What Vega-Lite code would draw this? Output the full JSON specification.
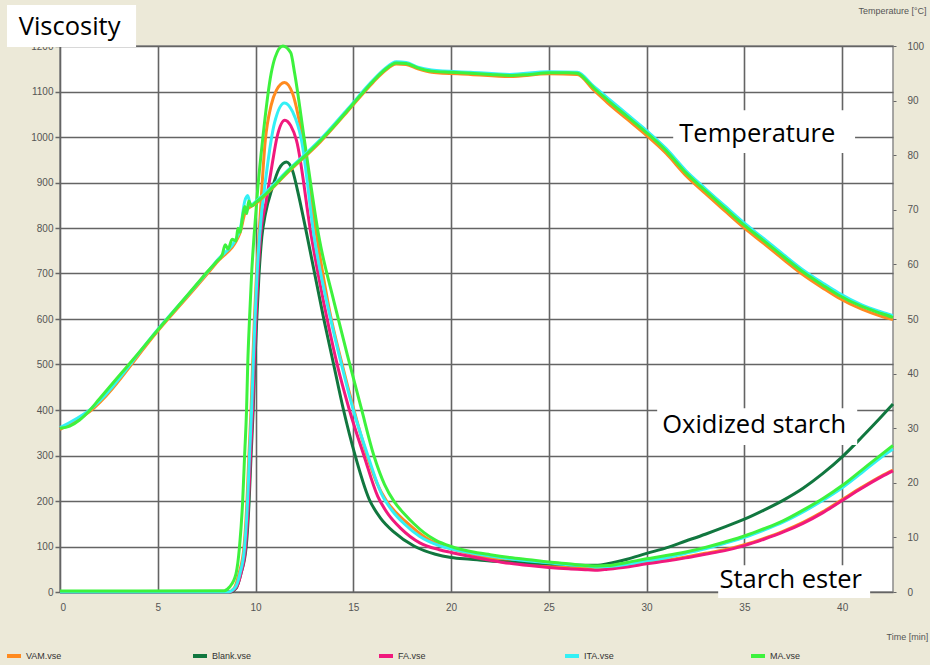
{
  "$schema": "https://vega.github.io/schema/vega-lite/v6.json",
  "width": 833,
  "height": 546,
  "autosize": "none",
  "padding": {"left": 60, "top": 46, "right": 37, "bottom": 73},
  "background": "#ECE9D8",
  "view": {"fill": "white", "stroke": "#8a8a8a", "strokeWidth": 1.5},
  "config": {
    "axis": {
      "labelFont": "Liberation Sans",
      "labelColor": "#555555",
      "labelFontSize": 10,
      "titleFont": "Liberation Sans",
      "titleFontWeight": "normal",
      "titleColor": "#555555",
      "titleFontSize": 9
    }
  },
  "datasets": {
    "visc": [
      {"s":"VAM.vse","t":0,"v":0},{"s":"VAM.vse","t":8.6,"v":0},{"s":"VAM.vse","t":8.9,"v":8},{"s":"VAM.vse","t":9.15,"v":40},{"s":"VAM.vse","t":9.41,"v":99},{"s":"VAM.vse","t":9.56,"v":198},{"s":"VAM.vse","t":9.66,"v":299},{"s":"VAM.vse","t":9.77,"v":400},{"s":"VAM.vse","t":9.85,"v":499},{"s":"VAM.vse","t":9.94,"v":598},{"s":"VAM.vse","t":10.05,"v":700},{"s":"VAM.vse","t":10.17,"v":780},{"s":"VAM.vse","t":10.5,"v":993},{"s":"VAM.vse","t":10.8,"v":1070},{"s":"VAM.vse","t":11.07,"v":1103},{"s":"VAM.vse","t":11.48,"v":1120},{"s":"VAM.vse","t":11.9,"v":1095},{"s":"VAM.vse","t":12.35,"v":1010},{"s":"VAM.vse","t":13.1,"v":790},{"s":"VAM.vse","t":13.8,"v":615},{"s":"VAM.vse","t":14.4,"v":505},{"s":"VAM.vse","t":15.0,"v":405},{"s":"VAM.vse","t":15.7,"v":300},{"s":"VAM.vse","t":16.2,"v":240},{"s":"VAM.vse","t":16.7,"v":200},{"s":"VAM.vse","t":17.2,"v":174},{"s":"VAM.vse","t":17.7,"v":154},{"s":"VAM.vse","t":18.3,"v":132},{"s":"VAM.vse","t":18.9,"v":114},{"s":"VAM.vse","t":19.5,"v":102},{"s":"VAM.vse","t":20,"v":95},{"s":"VAM.vse","t":21,"v":84},{"s":"VAM.vse","t":22,"v":75},{"s":"VAM.vse","t":23,"v":67},{"s":"VAM.vse","t":24,"v":61},{"s":"VAM.vse","t":25,"v":57},{"s":"VAM.vse","t":26,"v":54},{"s":"VAM.vse","t":27,"v":52},{"s":"VAM.vse","t":27.5,"v":51},{"s":"VAM.vse","t":28,"v":52},{"s":"VAM.vse","t":29,"v":57},{"s":"VAM.vse","t":30,"v":64},{"s":"VAM.vse","t":31,"v":70},{"s":"VAM.vse","t":32,"v":77},{"s":"VAM.vse","t":33,"v":85},{"s":"VAM.vse","t":34,"v":93},{"s":"VAM.vse","t":35,"v":104},{"s":"VAM.vse","t":36,"v":118},{"s":"VAM.vse","t":37,"v":134},{"s":"VAM.vse","t":38,"v":153},{"s":"VAM.vse","t":39,"v":176},{"s":"VAM.vse","t":40,"v":203},{"s":"VAM.vse","t":41,"v":230},{"s":"VAM.vse","t":42,"v":255},{"s":"VAM.vse","t":42.6,"v":268},
      {"s":"Blank.vse","t":0,"v":0},{"s":"Blank.vse","t":8.7,"v":0},{"s":"Blank.vse","t":9.0,"v":8},{"s":"Blank.vse","t":9.25,"v":40},{"s":"Blank.vse","t":9.52,"v":99},{"s":"Blank.vse","t":9.67,"v":198},{"s":"Blank.vse","t":9.77,"v":299},{"s":"Blank.vse","t":9.88,"v":400},{"s":"Blank.vse","t":9.96,"v":499},{"s":"Blank.vse","t":10.06,"v":598},{"s":"Blank.vse","t":10.18,"v":700},{"s":"Blank.vse","t":10.32,"v":780},{"s":"Blank.vse","t":10.5,"v":830},{"s":"Blank.vse","t":10.87,"v":890},{"s":"Blank.vse","t":11.2,"v":930},{"s":"Blank.vse","t":11.58,"v":945},{"s":"Blank.vse","t":11.9,"v":925},{"s":"Blank.vse","t":12.14,"v":884},{"s":"Blank.vse","t":12.65,"v":780},{"s":"Blank.vse","t":13.5,"v":598},{"s":"Blank.vse","t":14.0,"v":499},{"s":"Blank.vse","t":14.5,"v":400},{"s":"Blank.vse","t":15.1,"v":299},{"s":"Blank.vse","t":15.8,"v":205},{"s":"Blank.vse","t":16.4,"v":162},{"s":"Blank.vse","t":17.1,"v":131},{"s":"Blank.vse","t":18.1,"v":101},{"s":"Blank.vse","t":19.2,"v":83},{"s":"Blank.vse","t":20,"v":76},{"s":"Blank.vse","t":21,"v":72},{"s":"Blank.vse","t":22,"v":68},{"s":"Blank.vse","t":23,"v":66},{"s":"Blank.vse","t":24,"v":64},{"s":"Blank.vse","t":25,"v":62},{"s":"Blank.vse","t":26,"v":60},{"s":"Blank.vse","t":27,"v":59},{"s":"Blank.vse","t":27.5,"v":59},{"s":"Blank.vse","t":28,"v":62},{"s":"Blank.vse","t":29,"v":72},{"s":"Blank.vse","t":30,"v":85},{"s":"Blank.vse","t":31,"v":97},{"s":"Blank.vse","t":32,"v":112},{"s":"Blank.vse","t":33,"v":127},{"s":"Blank.vse","t":34,"v":143},{"s":"Blank.vse","t":35,"v":160},{"s":"Blank.vse","t":36,"v":180},{"s":"Blank.vse","t":37,"v":202},{"s":"Blank.vse","t":38,"v":228},{"s":"Blank.vse","t":39,"v":260},{"s":"Blank.vse","t":40,"v":297},{"s":"Blank.vse","t":41,"v":340},{"s":"Blank.vse","t":42,"v":385},{"s":"Blank.vse","t":42.6,"v":413},
      {"s":"FA.vse","t":0,"v":0},{"s":"FA.vse","t":8.65,"v":0},{"s":"FA.vse","t":8.98,"v":8},{"s":"FA.vse","t":9.25,"v":40},{"s":"FA.vse","t":9.49,"v":99},{"s":"FA.vse","t":9.64,"v":198},{"s":"FA.vse","t":9.74,"v":299},{"s":"FA.vse","t":9.85,"v":400},{"s":"FA.vse","t":9.93,"v":499},{"s":"FA.vse","t":10.02,"v":598},{"s":"FA.vse","t":10.13,"v":700},{"s":"FA.vse","t":10.25,"v":780},{"s":"FA.vse","t":10.55,"v":860},{"s":"FA.vse","t":10.85,"v":940},{"s":"FA.vse","t":11.1,"v":1000},{"s":"FA.vse","t":11.5,"v":1037},{"s":"FA.vse","t":11.8,"v":1025},{"s":"FA.vse","t":12.09,"v":993},{"s":"FA.vse","t":12.86,"v":780},{"s":"FA.vse","t":13.67,"v":598},{"s":"FA.vse","t":14.18,"v":499},{"s":"FA.vse","t":14.8,"v":400},{"s":"FA.vse","t":15.55,"v":299},{"s":"FA.vse","t":16.25,"v":210},{"s":"FA.vse","t":16.8,"v":170},{"s":"FA.vse","t":17.4,"v":141},{"s":"FA.vse","t":18.4,"v":108},{"s":"FA.vse","t":19.4,"v":93},{"s":"FA.vse","t":20,"v":87},{"s":"FA.vse","t":21,"v":78},{"s":"FA.vse","t":22,"v":70},{"s":"FA.vse","t":23,"v":63},{"s":"FA.vse","t":24,"v":58},{"s":"FA.vse","t":25,"v":54},{"s":"FA.vse","t":26,"v":51},{"s":"FA.vse","t":27,"v":49},{"s":"FA.vse","t":27.5,"v":48},{"s":"FA.vse","t":28,"v":50},{"s":"FA.vse","t":29,"v":55},{"s":"FA.vse","t":30,"v":62},{"s":"FA.vse","t":31,"v":68},{"s":"FA.vse","t":32,"v":75},{"s":"FA.vse","t":33,"v":83},{"s":"FA.vse","t":34,"v":91},{"s":"FA.vse","t":35,"v":102},{"s":"FA.vse","t":36,"v":116},{"s":"FA.vse","t":37,"v":132},{"s":"FA.vse","t":38,"v":151},{"s":"FA.vse","t":39,"v":174},{"s":"FA.vse","t":40,"v":201},{"s":"FA.vse","t":41,"v":228},{"s":"FA.vse","t":42,"v":253},{"s":"FA.vse","t":42.6,"v":266},
      {"s":"ITA.vse","t":0,"v":0},{"s":"ITA.vse","t":8.6,"v":0},{"s":"ITA.vse","t":8.93,"v":8},{"s":"ITA.vse","t":9.2,"v":40},{"s":"ITA.vse","t":9.44,"v":99},{"s":"ITA.vse","t":9.59,"v":198},{"s":"ITA.vse","t":9.69,"v":299},{"s":"ITA.vse","t":9.8,"v":400},{"s":"ITA.vse","t":9.88,"v":499},{"s":"ITA.vse","t":9.97,"v":598},{"s":"ITA.vse","t":10.08,"v":700},{"s":"ITA.vse","t":10.2,"v":780},{"s":"ITA.vse","t":10.56,"v":921},{"s":"ITA.vse","t":10.97,"v":1031},{"s":"ITA.vse","t":11.48,"v":1075},{"s":"ITA.vse","t":11.9,"v":1055},{"s":"ITA.vse","t":12.35,"v":993},{"s":"ITA.vse","t":13.0,"v":780},{"s":"ITA.vse","t":13.85,"v":598},{"s":"ITA.vse","t":14.4,"v":499},{"s":"ITA.vse","t":15.0,"v":400},{"s":"ITA.vse","t":15.75,"v":299},{"s":"ITA.vse","t":16.45,"v":215},{"s":"ITA.vse","t":17.0,"v":178},{"s":"ITA.vse","t":17.6,"v":150},{"s":"ITA.vse","t":18.4,"v":122},{"s":"ITA.vse","t":19.4,"v":102},{"s":"ITA.vse","t":20,"v":95},{"s":"ITA.vse","t":21,"v":86},{"s":"ITA.vse","t":22,"v":79},{"s":"ITA.vse","t":23,"v":73},{"s":"ITA.vse","t":24,"v":68},{"s":"ITA.vse","t":25,"v":64},{"s":"ITA.vse","t":26,"v":60},{"s":"ITA.vse","t":27,"v":57},{"s":"ITA.vse","t":27.5,"v":55},{"s":"ITA.vse","t":28,"v":56},{"s":"ITA.vse","t":29,"v":61},{"s":"ITA.vse","t":30,"v":69},{"s":"ITA.vse","t":31,"v":75},{"s":"ITA.vse","t":32,"v":85},{"s":"ITA.vse","t":33,"v":95},{"s":"ITA.vse","t":34,"v":107},{"s":"ITA.vse","t":35,"v":120},{"s":"ITA.vse","t":36,"v":136},{"s":"ITA.vse","t":37,"v":154},{"s":"ITA.vse","t":38,"v":176},{"s":"ITA.vse","t":39,"v":201},{"s":"ITA.vse","t":40,"v":229},{"s":"ITA.vse","t":41,"v":262},{"s":"ITA.vse","t":42,"v":296},{"s":"ITA.vse","t":42.6,"v":314},
      {"s":"MA.vse","t":0,"v":2},{"s":"MA.vse","t":4,"v":2},{"s":"MA.vse","t":8.4,"v":3},{"s":"MA.vse","t":8.67,"v":11},{"s":"MA.vse","t":9.0,"v":40},{"s":"MA.vse","t":9.18,"v":99},{"s":"MA.vse","t":9.34,"v":198},{"s":"MA.vse","t":9.44,"v":299},{"s":"MA.vse","t":9.54,"v":400},{"s":"MA.vse","t":9.6,"v":499},{"s":"MA.vse","t":9.69,"v":598},{"s":"MA.vse","t":9.8,"v":700},{"s":"MA.vse","t":9.92,"v":780},{"s":"MA.vse","t":10.1,"v":880},{"s":"MA.vse","t":10.36,"v":993},{"s":"MA.vse","t":10.8,"v":1140},{"s":"MA.vse","t":11.0,"v":1175},{"s":"MA.vse","t":11.4,"v":1200},{"s":"MA.vse","t":11.8,"v":1185},{"s":"MA.vse","t":12.0,"v":1140},{"s":"MA.vse","t":12.5,"v":993},{"s":"MA.vse","t":13.27,"v":774},{"s":"MA.vse","t":14.0,"v":640},{"s":"MA.vse","t":14.7,"v":520},{"s":"MA.vse","t":15.4,"v":405},{"s":"MA.vse","t":16.05,"v":300},{"s":"MA.vse","t":16.6,"v":236},{"s":"MA.vse","t":17.1,"v":198},{"s":"MA.vse","t":17.6,"v":172},{"s":"MA.vse","t":18.1,"v":150},{"s":"MA.vse","t":18.6,"v":131},{"s":"MA.vse","t":19.2,"v":114},{"s":"MA.vse","t":20,"v":100},{"s":"MA.vse","t":21,"v":89},{"s":"MA.vse","t":22,"v":82},{"s":"MA.vse","t":23,"v":76},{"s":"MA.vse","t":24,"v":71},{"s":"MA.vse","t":25,"v":66},{"s":"MA.vse","t":26,"v":62},{"s":"MA.vse","t":27,"v":58},{"s":"MA.vse","t":27.5,"v":57},{"s":"MA.vse","t":28,"v":58},{"s":"MA.vse","t":29,"v":65},{"s":"MA.vse","t":30,"v":73},{"s":"MA.vse","t":31,"v":80},{"s":"MA.vse","t":32,"v":88},{"s":"MA.vse","t":33,"v":98},{"s":"MA.vse","t":34,"v":110},{"s":"MA.vse","t":35,"v":123},{"s":"MA.vse","t":36,"v":139},{"s":"MA.vse","t":37,"v":157},{"s":"MA.vse","t":38,"v":180},{"s":"MA.vse","t":39,"v":205},{"s":"MA.vse","t":40,"v":234},{"s":"MA.vse","t":41,"v":268},{"s":"MA.vse","t":42,"v":302},{"s":"MA.vse","t":42.6,"v":322}
    ],
    "temp": [
      {"s":"VAM.vse","t":0,"T":29.8},{"s":"VAM.vse","t":1.5,"T":33.0},{"s":"VAM.vse","t":5,"T":47.8},{"s":"VAM.vse","t":8,"T":60.3},{"s":"VAM.vse","t":9.2,"T":65.7},{"s":"VAM.vse","t":9.5,"T":69.8},{"s":"VAM.vse","t":10.0,"T":71.1},{"s":"VAM.vse","t":11.73,"T":77.1},{"s":"VAM.vse","t":13.3,"T":82.4},{"s":"VAM.vse","t":14.7,"T":88.0},{"s":"VAM.vse","t":16,"T":93.3},{"s":"VAM.vse","t":16.6,"T":95.4},{"s":"VAM.vse","t":17.2,"T":96.7},{"s":"VAM.vse","t":17.7,"T":96.6},{"s":"VAM.vse","t":18.3,"T":95.8},{"s":"VAM.vse","t":19,"T":95.2},{"s":"VAM.vse","t":21,"T":94.8},{"s":"VAM.vse","t":23,"T":94.4},{"s":"VAM.vse","t":25,"T":94.9},{"s":"VAM.vse","t":26.45,"T":94.8},{"s":"VAM.vse","t":27.3,"T":91.9},{"s":"VAM.vse","t":28,"T":89.6},{"s":"VAM.vse","t":29,"T":86.6},{"s":"VAM.vse","t":30,"T":83.6},{"s":"VAM.vse","t":31,"T":80.3},{"s":"VAM.vse","t":32,"T":76.3},{"s":"VAM.vse","t":33,"T":73.0},{"s":"VAM.vse","t":34,"T":69.8},{"s":"VAM.vse","t":34.85,"T":67.1},{"s":"VAM.vse","t":36,"T":63.8},{"s":"VAM.vse","t":37,"T":60.9},{"s":"VAM.vse","t":38,"T":58.1},{"s":"VAM.vse","t":39,"T":55.7},{"s":"VAM.vse","t":39.8,"T":53.9},{"s":"VAM.vse","t":41,"T":51.8},{"s":"VAM.vse","t":42,"T":50.5},{"s":"VAM.vse","t":42.6,"T":49.9},
      {"s":"ITA.vse","t":0,"T":30.1},{"s":"ITA.vse","t":1.5,"T":33.3},{"s":"ITA.vse","t":5,"T":48.1},{"s":"ITA.vse","t":8,"T":60.6},{"s":"ITA.vse","t":9.2,"T":66.2},{"s":"ITA.vse","t":9.45,"T":71.6},{"s":"ITA.vse","t":9.6,"T":72.6},{"s":"ITA.vse","t":9.75,"T":70.8},{"s":"ITA.vse","t":10.0,"T":71.5},{"s":"ITA.vse","t":11.73,"T":77.5},{"s":"ITA.vse","t":13.3,"T":82.8},{"s":"ITA.vse","t":14.7,"T":88.4},{"s":"ITA.vse","t":16,"T":93.7},{"s":"ITA.vse","t":16.6,"T":95.8},{"s":"ITA.vse","t":17.2,"T":97.1},{"s":"ITA.vse","t":17.7,"T":97.0},{"s":"ITA.vse","t":18.3,"T":96.1},{"s":"ITA.vse","t":19,"T":95.6},{"s":"ITA.vse","t":21,"T":95.2},{"s":"ITA.vse","t":23,"T":94.8},{"s":"ITA.vse","t":25,"T":95.3},{"s":"ITA.vse","t":26.45,"T":95.2},{"s":"ITA.vse","t":27.3,"T":92.6},{"s":"ITA.vse","t":28,"T":90.5},{"s":"ITA.vse","t":29,"T":87.5},{"s":"ITA.vse","t":30,"T":84.5},{"s":"ITA.vse","t":31,"T":81.2},{"s":"ITA.vse","t":32,"T":77.2},{"s":"ITA.vse","t":33,"T":73.9},{"s":"ITA.vse","t":34,"T":70.7},{"s":"ITA.vse","t":34.85,"T":68.0},{"s":"ITA.vse","t":36,"T":64.7},{"s":"ITA.vse","t":37,"T":61.8},{"s":"ITA.vse","t":38,"T":59.0},{"s":"ITA.vse","t":39,"T":56.6},{"s":"ITA.vse","t":39.8,"T":54.8},{"s":"ITA.vse","t":41,"T":52.6},{"s":"ITA.vse","t":42,"T":51.3},{"s":"ITA.vse","t":42.6,"T":50.6},
      {"s":"MA.vse","t":0,"T":30.0},{"s":"MA.vse","t":0.5,"T":30.4},{"s":"MA.vse","t":1.0,"T":31.5},{"s":"MA.vse","t":1.5,"T":33.2},{"s":"MA.vse","t":2,"T":35.3},{"s":"MA.vse","t":3,"T":39.5},{"s":"MA.vse","t":4,"T":43.7},{"s":"MA.vse","t":5,"T":48.0},{"s":"MA.vse","t":6,"T":52.2},{"s":"MA.vse","t":7,"T":56.4},{"s":"MA.vse","t":7.5,"T":58.5},{"s":"MA.vse","t":8,"T":60.5},{"s":"MA.vse","t":8.3,"T":61.8},{"s":"MA.vse","t":8.45,"T":63.6},{"s":"MA.vse","t":8.6,"T":62.8},{"s":"MA.vse","t":8.8,"T":64.6},{"s":"MA.vse","t":9.0,"T":64.3},{"s":"MA.vse","t":9.1,"T":66.6},{"s":"MA.vse","t":9.2,"T":65.9},{"s":"MA.vse","t":9.35,"T":69.0},{"s":"MA.vse","t":9.45,"T":70.6},{"s":"MA.vse","t":9.55,"T":69.3},{"s":"MA.vse","t":9.65,"T":71.6},{"s":"MA.vse","t":9.8,"T":70.7},{"s":"MA.vse","t":10.0,"T":71.3},{"s":"MA.vse","t":10.5,"T":72.8},{"s":"MA.vse","t":11,"T":74.6},{"s":"MA.vse","t":11.73,"T":77.3},{"s":"MA.vse","t":12.5,"T":79.8},{"s":"MA.vse","t":13.3,"T":82.6},{"s":"MA.vse","t":14,"T":85.3},{"s":"MA.vse","t":14.7,"T":88.2},{"s":"MA.vse","t":15.4,"T":91.1},{"s":"MA.vse","t":16,"T":93.5},{"s":"MA.vse","t":16.6,"T":95.6},{"s":"MA.vse","t":17.2,"T":96.9},{"s":"MA.vse","t":17.7,"T":96.8},{"s":"MA.vse","t":18.3,"T":96.0},{"s":"MA.vse","t":19,"T":95.4},{"s":"MA.vse","t":20,"T":95.2},{"s":"MA.vse","t":21,"T":95.0},{"s":"MA.vse","t":22,"T":94.8},{"s":"MA.vse","t":23,"T":94.6},{"s":"MA.vse","t":24,"T":94.8},{"s":"MA.vse","t":25,"T":95.1},{"s":"MA.vse","t":26,"T":95.1},{"s":"MA.vse","t":26.45,"T":95.0},{"s":"MA.vse","t":27,"T":93.4},{"s":"MA.vse","t":27.3,"T":92.3},{"s":"MA.vse","t":28,"T":90.1},{"s":"MA.vse","t":29,"T":87.1},{"s":"MA.vse","t":30,"T":84.1},{"s":"MA.vse","t":31,"T":80.8},{"s":"MA.vse","t":32,"T":76.8},{"s":"MA.vse","t":33,"T":73.5},{"s":"MA.vse","t":34,"T":70.3},{"s":"MA.vse","t":34.85,"T":67.6},{"s":"MA.vse","t":36,"T":64.3},{"s":"MA.vse","t":37,"T":61.4},{"s":"MA.vse","t":38,"T":58.6},{"s":"MA.vse","t":39,"T":56.2},{"s":"MA.vse","t":39.8,"T":54.4},{"s":"MA.vse","t":41,"T":52.3},{"s":"MA.vse","t":42,"T":51.0},{"s":"MA.vse","t":42.6,"T":50.3}
    ],
    "notes": [
      {"label":"Viscosity","t1":-2.71,"t2":3.89,"v1":1198,"v2":1290,"tx":0.49,"ty":1224},
      {"label":"Temperature","t1":31.36,"t2":40.66,"v1":965,"v2":1059,"tx":35.66,"ty":990},
      {"label":"Oxidized starch","t1":30.54,"t2":40.77,"v1":323,"v2":404,"tx":35.5,"ty":349},
      {"label":"Starch ester","t1":33.66,"t2":41.43,"v1":-13,"v2":59,"tx":37.37,"ty":9}
    ]
  },
  "layer": [
    {
      "data": {"name": "visc"},
      "mark": {"type": "line", "strokeWidth": 3, "interpolate": "monotone"},
      "encoding": {
        "x": {
          "field": "t", "type": "quantitative",
          "scale": {"domain": [0, 42.6], "nice": false, "zero": false},
          "axis": {
            "values": [0, 5, 10, 15, 20, 25, 30, 35, 40],
            "grid": true, "gridColor": "#646464", "gridWidth": 1.6,
            "domain": false, "ticks": false, "labelPadding": 10,
            "title": "Time [min]", "titleAnchor": "start", "titleAlign": "left",
            "titleX": 826, "titleY": 40
          }
        },
        "y": {
          "field": "v", "type": "quantitative",
          "scale": {"domain": [0, 1200], "nice": false},
          "axis": {
            "values": [0, 100, 200, 300, 400, 500, 600, 700, 800, 900, 1000, 1100, 1200],
            "format": "d",
            "grid": true, "gridColor": "#646464", "gridWidth": 1.6,
            "domain": false, "ticks": true, "tickSize": 5, "tickColor": "#666666", "tickWidth": 1.5,
            "labelPadding": 2, "title": null
          }
        },
        "color": {
          "field": "s", "type": "nominal",
          "scale": {
            "domain": ["VAM.vse", "Blank.vse", "FA.vse", "ITA.vse", "MA.vse"],
            "range": ["#FF8A1F", "#11773F", "#F0197D", "#33F0F5", "#3DF23D"]
          },
          "legend": {
            "orient": "none", "legendX": -55, "legendY": 601,
            "direction": "horizontal", "columns": 5, "gridAlign": "all",
            "columnPadding": 119, "symbolType": "stroke", "symbolStrokeWidth": 4,
            "symbolSize": 196, "labelFont": "Liberation Sans", "labelFontSize": 9,
            "labelColor": "#333333", "labelOffset": 3, "title": null
          }
        }
      }
    },
    {
      "data": {"name": "temp"},
      "mark": {"type": "line", "strokeWidth": 3, "interpolate": "monotone"},
      "encoding": {
        "x": {"field": "t", "type": "quantitative", "scale": {"domain": [0, 42.6], "nice": false, "zero": false}},
        "y": {
          "field": "T", "type": "quantitative",
          "scale": {"domain": [0, 100], "nice": false},
          "axis": {
            "orient": "right",
            "values": [0, 10, 20, 30, 40, 50, 60, 70, 80, 90, 100],
            "grid": false, "domain": false, "ticks": true, "tickSize": 3, "tickColor": "#666666",
            "labelAlign": "left", "labelPadding": 11,
            "title": "Temperature [°C]", "titleAngle": 0, "titleAlign": "left", "titleBaseline": "middle",
            "titleX": -35, "titleY": -36
          }
        },
        "color": {"field": "s", "type": "nominal"}
      }
    },
    {
      "data": {"name": "notes"},
      "mark": {"type": "rect", "fill": "white"},
      "encoding": {
        "x": {"field": "t1", "type": "quantitative", "scale": {"domain": [0, 42.6], "nice": false, "zero": false}},
        "x2": {"field": "t2"},
        "y": {"field": "v1", "type": "quantitative", "scale": {"domain": [0, 1200], "nice": false}, "axis": null},
        "y2": {"field": "v2"}
      }
    },
    {
      "data": {"name": "notes"},
      "mark": {"type": "text", "font": "Open Sans", "fontSize": 25.5, "color": "black", "baseline": "alphabetic", "align": "center"},
      "encoding": {
        "x": {"field": "tx", "type": "quantitative", "scale": {"domain": [0, 42.6], "nice": false, "zero": false}},
        "y": {"field": "ty", "type": "quantitative", "scale": {"domain": [0, 1200], "nice": false}, "axis": null},
        "text": {"field": "label"}
      }
    }
  ],
  "resolve": {"scale": {"y": "independent"}}
}
